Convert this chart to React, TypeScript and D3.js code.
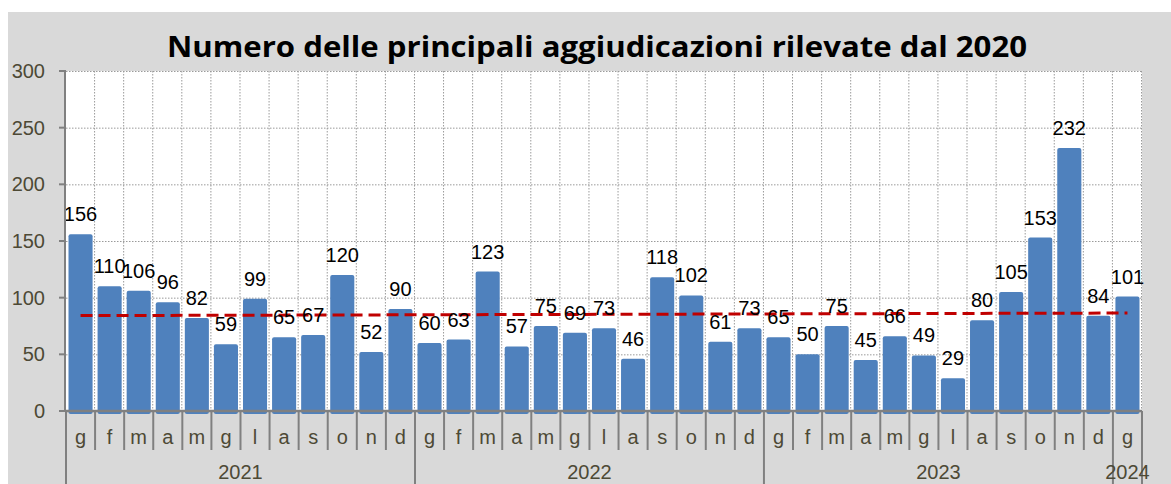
import React, { useEffect, useRef } from 'react';
import * as d3 from 'd3';

// mesi (iniziali) e anni
const years = ['2021', '2022', '2023', '2024'];
const monthLetters = ['g', 'f', 'm', 'a', 'm', 'g', 'l', 'a', 's', 'o', 'n', 'd'];

// numero aggiudicazioni per mese
const values2021 = [156, 110, 106, 96, 82, 59, 99, 65, 67, 120, 52, 90];
const values2022 = [60, 63, 123, 57, 75, 69, 73, 46, 118, 102, 61, 73];
const values2023 = [65, 50, 75, 45, 66, 49, 29, 80, 105, 153, 232, 84];
const values2024 = [101];

const yTicks = [0, 50, 100, 150, 200, 250, 300];

const TITLE = 'Numero delle principali aggiudicazioni rilevate dal 2020';

const App: React.FC = () => {
  const svgRef = useRef<SVGSVGElement>(null);

  useEffect(() => {
    if (!svgRef.current) return;

    const width = 1171;
    const height = 484;
    const margin = { left: 66, right: 1142, top: 71, bottom: 411 };

    const series = [values2021, values2022, values2023, values2024];
    const data = series.flatMap((vals, yi) =>
      vals.map((v, mi) => ({ id: `${yi}-${mi}`, year: years[yi], month: monthLetters[mi], value: v }))
    );

    const x = d3.scaleBand<string>()
      .domain(data.map(d => d.id))
      .range([margin.left, margin.right])
      .paddingInner(0)
      .paddingOuter(0);

    const y = d3.scaleLinear()
      .domain([0, 300])
      .range([margin.bottom, margin.top]);

    const svg = d3.select(svgRef.current);
    svg.selectAll('*').remove();

    const axisColor = '#4d4935';
    const font = "'Liberation Sans', Arial, sans-serif";

    // sfondo grigio
    svg.append('rect')
      .attr('x', 8).attr('y', 12)
      .attr('width', width - 8).attr('height', height - 12)
      .attr('fill', '#d9d9d9');

    // titolo
    svg.append('text')
      .attr('x', 597)
      .attr('y', 57)
      .attr('text-anchor', 'middle')
      .attr('font-family', "'Open Sans', 'Noto Sans', sans-serif")
      .attr('font-weight', 700)
      .attr('font-size', 29)
      .attr('textLength', 860)
      .attr('lengthAdjust', 'spacingAndGlyphs')
      .attr('fill', '#000')
      .text(TITLE);

    // area del grafico
    svg.append('rect')
      .attr('x', margin.left).attr('y', margin.top)
      .attr('width', margin.right - margin.left)
      .attr('height', margin.bottom - margin.top)
      .attr('fill', '#fff');

    // griglia
    const grid = svg.append('g')
      .attr('stroke', '#9a9a9a')
      .attr('stroke-width', 1)
      .attr('stroke-dasharray', '1.5,1.5');

    grid.selectAll('line.h')
      .data(yTicks.slice(1))
      .join('line')
      .attr('class', 'h')
      .attr('x1', margin.left).attr('x2', margin.right)
      .attr('y1', d => y(d) + 0.5).attr('y2', d => y(d) + 0.5);

    const boundaries = data.map(d => x(d.id)!).slice(1).concat([margin.right]);
    grid.selectAll('line.v')
      .data(boundaries)
      .join('line')
      .attr('class', 'v')
      .attr('x1', d => d - 0.5).attr('x2', d => d - 0.5)
      .attr('y1', margin.top).attr('y2', margin.bottom);

    // barre
    const barPad = 2.5;
    svg.append('g')
      .selectAll('rect')
      .data(data)
      .join('rect')
      .attr('x', d => x(d.id)! + barPad)
      .attr('width', x.bandwidth() - barPad * 2)
      .attr('y', d => y(d.value))
      .attr('height', d => y(0) - y(d.value) + 3)
      .attr('rx', 2)
      .attr('fill', '#4f81bd');

    // linea di tendenza (regressione lineare)
    const n = data.length;
    const xs = d3.range(n);
    const mx = d3.mean(xs)!;
    const my = d3.mean(data, d => d.value)!;
    const slope = d3.sum(xs, i => (i - mx) * (data[i].value - my)) / d3.sum(xs, i => (i - mx) ** 2);
    const icpt = my - slope * mx;
    svg.append('line')
      .attr('x1', x(data[0].id)! + x.bandwidth() / 2)
      .attr('x2', x(data[n - 1].id)! + x.bandwidth() / 2)
      .attr('y1', y(icpt))
      .attr('y2', y(icpt + slope * (n - 1)))
      .attr('stroke', '#c00000')
      .attr('stroke-width', 3)
      .attr('stroke-dasharray', '12,6');

    // etichette valori
    svg.append('g')
      .selectAll('text')
      .data(data)
      .join('text')
      .attr('x', d => x(d.id)! + x.bandwidth() / 2)
      .attr('y', d => y(d.value) - 13)
      .attr('text-anchor', 'middle')
      .attr('font-family', font)
      .attr('font-size', 20)
      .attr('fill', '#000')
      .text(d => d.value);

    // asse y
    const yAxis = svg.append('g');
    yAxis.append('line')
      .attr('x1', margin.left - 1).attr('x2', margin.left - 1)
      .attr('y1', margin.top).attr('y2', margin.bottom)
      .attr('stroke', '#808080').attr('stroke-width', 2);
    yAxis.selectAll('line.tick')
      .data(yTicks)
      .join('line')
      .attr('class', 'tick')
      .attr('x1', margin.left - 7).attr('x2', margin.left)
      .attr('y1', d => y(d)).attr('y2', d => y(d))
      .attr('stroke', '#808080').attr('stroke-width', 2);
    yAxis.selectAll('text')
      .data(yTicks)
      .join('text')
      .attr('x', 45)
      .attr('y', d => y(d))
      .attr('dy', '0.35em')
      .attr('text-anchor', 'end')
      .attr('font-family', font)
      .attr('font-size', 20)
      .attr('fill', axisColor)
      .text(d => d);

    // asse x
    const xAxis = svg.append('g');
    xAxis.append('line')
      .attr('x1', margin.left - 1).attr('x2', margin.right)
      .attr('y1', margin.bottom).attr('y2', margin.bottom)
      .attr('stroke', '#808080').attr('stroke-width', 2.5);

    // separatori mesi / anni
    const edges = data.map((d, i) => ({
      pos: x(d.id)!,
      yearEdge: i === 0 || data[i - 1].year !== d.year,
    })).concat([{ pos: margin.right, yearEdge: true }]);

    xAxis.selectAll('line.sep')
      .data(edges)
      .join('line')
      .attr('class', 'sep')
      .attr('x1', d => d.pos).attr('x2', d => d.pos)
      .attr('y1', margin.bottom)
      .attr('y2', d => (d.yearEdge ? height : 450))
      .attr('stroke', '#808080')
      .attr('stroke-width', 2);

    xAxis.selectAll('text.month')
      .data(data)
      .join('text')
      .attr('class', 'month')
      .attr('x', d => x(d.id)! + x.bandwidth() / 2)
      .attr('y', 444)
      .attr('text-anchor', 'middle')
      .attr('font-family', font)
      .attr('font-size', 20)
      .attr('fill', axisColor)
      .text(d => d.month);

    const yearGroups = d3.groups(data, d => d.year).map(([yr, items]) => ({
      yr,
      x0: x(items[0].id)!,
      x1: x(items[items.length - 1].id)! + x.bandwidth(),
    }));

    xAxis.selectAll('text.year')
      .data(yearGroups)
      .join('text')
      .attr('class', 'year')
      .attr('x', d => (d.x0 + d.x1) / 2)
      .attr('y', 479)
      .attr('text-anchor', 'middle')
      .attr('font-family', font)
      .attr('font-size', 20)
      .attr('fill', axisColor)
      .text(d => d.yr);
  }, []);

  return (
    <svg
      ref={svgRef}
      width={1171}
      height={484}
      style={{ position: 'absolute', left: 0, top: 0, display: 'block' }}
    />
  );
};

export default App;
